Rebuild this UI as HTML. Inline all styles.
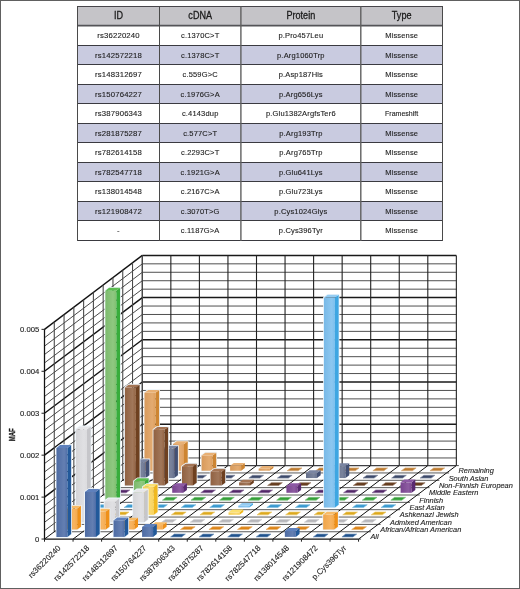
<!DOCTYPE html>
<html><head><meta charset="utf-8"><style>
html,body{margin:0;padding:0;background:#fff;}
body{width:520px;height:589px;overflow:hidden;position:relative;}
svg{position:absolute;left:0;top:0;will-change:transform;font-family:"Liberation Sans",sans-serif;}
.frame{position:absolute;left:0;top:0;width:518px;height:587px;border:1px solid #606060;}
</style></head><body>
<svg width="520" height="589" viewBox="0 0 520 589">
<defs><linearGradient id="g0" x1="0" y1="0" x2="1" y2="0"><stop offset="0" stop-color="#4d6ba3"/><stop offset="0.7" stop-color="#647fb2"/><stop offset="1" stop-color="#4f6ea8"/></linearGradient><linearGradient id="g1" x1="0" y1="0" x2="1" y2="0"><stop offset="0" stop-color="#efa54a"/><stop offset="0.7" stop-color="#f7b461"/><stop offset="1" stop-color="#f6aa4c"/></linearGradient><linearGradient id="g2" x1="0" y1="0" x2="1" y2="0"><stop offset="0" stop-color="#d5d5d8"/><stop offset="0.7" stop-color="#e0e0e3"/><stop offset="1" stop-color="#dcdcdf"/></linearGradient><linearGradient id="g3" x1="0" y1="0" x2="1" y2="0"><stop offset="0" stop-color="#f2cd57"/><stop offset="0.7" stop-color="#fad86e"/><stop offset="1" stop-color="#f9d35a"/></linearGradient><linearGradient id="g4" x1="0" y1="0" x2="1" y2="0"><stop offset="0" stop-color="#78b9e7"/><stop offset="0.7" stop-color="#8cc7f0"/><stop offset="1" stop-color="#7cbfee"/></linearGradient><linearGradient id="g5" x1="0" y1="0" x2="1" y2="0"><stop offset="0" stop-color="#7cba6d"/><stop offset="0.7" stop-color="#8fc881"/><stop offset="1" stop-color="#80c070"/></linearGradient><linearGradient id="g6" x1="0" y1="0" x2="1" y2="0"><stop offset="0" stop-color="#794490"/><stop offset="0.7" stop-color="#8d5ca1"/><stop offset="1" stop-color="#7d4694"/></linearGradient><linearGradient id="g7" x1="0" y1="0" x2="1" y2="0"><stop offset="0" stop-color="#906141"/><stop offset="0.7" stop-color="#a1775a"/><stop offset="1" stop-color="#946443"/></linearGradient><linearGradient id="g8" x1="0" y1="0" x2="1" y2="0"><stop offset="0" stop-color="#646f8b"/><stop offset="0.7" stop-color="#79839c"/><stop offset="1" stop-color="#67728f"/></linearGradient><linearGradient id="g9" x1="0" y1="0" x2="1" y2="0"><stop offset="0" stop-color="#d89a5b"/><stop offset="0.7" stop-color="#e3ab71"/><stop offset="1" stop-color="#df9f5e"/></linearGradient></defs>
<rect x="77.5" y="6.5" width="365.0" height="19.0" fill="#c5c4c8"/>
<rect x="77.5" y="45.50" width="365.0" height="19.00" fill="#c9cbe0"/>
<rect x="77.5" y="84.50" width="365.0" height="19.00" fill="#c9cbe0"/>
<rect x="77.5" y="123.50" width="365.0" height="19.00" fill="#c9cbe0"/>
<rect x="77.5" y="162.50" width="365.0" height="19.00" fill="#c9cbe0"/>
<rect x="77.5" y="201.50" width="365.0" height="19.00" fill="#c9cbe0"/>
<line x1="77.0" y1="6.5" x2="443.0" y2="6.5" stroke="#47454a" stroke-width="1.0"/>
<line x1="77.5" y1="25.6" x2="442.5" y2="25.6" stroke="#545458" stroke-width="1.6"/>
<line x1="77.5" y1="45.50" x2="442.5" y2="45.50" stroke="#3a3a40" stroke-width="1.0"/>
<line x1="77.5" y1="64.50" x2="442.5" y2="64.50" stroke="#3a3a40" stroke-width="1.0"/>
<line x1="77.5" y1="84.50" x2="442.5" y2="84.50" stroke="#3a3a40" stroke-width="1.0"/>
<line x1="77.5" y1="103.50" x2="442.5" y2="103.50" stroke="#3a3a40" stroke-width="1.0"/>
<line x1="77.5" y1="123.50" x2="442.5" y2="123.50" stroke="#3a3a40" stroke-width="1.0"/>
<line x1="77.5" y1="142.50" x2="442.5" y2="142.50" stroke="#3a3a40" stroke-width="1.0"/>
<line x1="77.5" y1="162.50" x2="442.5" y2="162.50" stroke="#3a3a40" stroke-width="1.0"/>
<line x1="77.5" y1="181.50" x2="442.5" y2="181.50" stroke="#3a3a40" stroke-width="1.0"/>
<line x1="77.5" y1="201.50" x2="442.5" y2="201.50" stroke="#3a3a40" stroke-width="1.0"/>
<line x1="77.5" y1="220.50" x2="442.5" y2="220.50" stroke="#3a3a40" stroke-width="1.0"/>
<line x1="77.5" y1="240.50" x2="442.5" y2="240.50" stroke="#3a3a40" stroke-width="1.0"/>
<line x1="77.5" y1="6.5" x2="77.5" y2="241.00" stroke="#4a4a4a" stroke-width="1.0"/>
<line x1="159.5" y1="6.5" x2="159.5" y2="241.00" stroke="#4a4a4a" stroke-width="1.0"/>
<line x1="240.9" y1="6.5" x2="240.9" y2="241.00" stroke="#606060" stroke-width="1.4"/>
<line x1="360.8" y1="6.5" x2="360.8" y2="241.00" stroke="#606060" stroke-width="1.4"/>
<line x1="442.5" y1="6.5" x2="442.5" y2="241.00" stroke="#4a4a4a" stroke-width="1.0"/>
<text x="0" y="0" font-size="10.1" fill="#1a1a1a" text-anchor="middle" stroke="#1a1a1a" stroke-width="0.28" transform="translate(118.50,19.0) scale(0.9,1)">ID</text>
<text x="0" y="0" font-size="10.1" fill="#1a1a1a" text-anchor="middle" stroke="#1a1a1a" stroke-width="0.28" transform="translate(200.20,19.0) scale(0.9,1)">cDNA</text>
<text x="0" y="0" font-size="10.1" fill="#1a1a1a" text-anchor="middle" stroke="#1a1a1a" stroke-width="0.28" transform="translate(300.85,19.0) scale(0.9,1)">Protein</text>
<text x="0" y="0" font-size="10.1" fill="#1a1a1a" text-anchor="middle" stroke="#1a1a1a" stroke-width="0.28" transform="translate(401.65,19.0) scale(0.9,1)">Type</text>
<text x="118.50" y="38.45" font-size="7.75" fill="#1e1e1e" stroke="#1e1e1e" stroke-width="0.12" letter-spacing="0.17" text-anchor="middle">rs36220240</text>
<text x="200.20" y="38.45" font-size="7.5" fill="#1e1e1e" stroke="#1e1e1e" stroke-width="0.12" letter-spacing="0.17" text-anchor="middle">c.1370C&gt;T</text>
<text x="300.85" y="38.45" font-size="7.5" fill="#1e1e1e" stroke="#1e1e1e" stroke-width="0.12" letter-spacing="0.17" text-anchor="middle">p.Pro457Leu</text>
<text x="401.65" y="38.45" font-size="7.5" fill="#1e1e1e" stroke="#1e1e1e" stroke-width="0.12" letter-spacing="0.17" text-anchor="middle">Missense</text>
<text x="118.50" y="57.91" font-size="7.75" fill="#1e1e1e" stroke="#1e1e1e" stroke-width="0.12" letter-spacing="0.17" text-anchor="middle">rs142572218</text>
<text x="200.20" y="57.91" font-size="7.5" fill="#1e1e1e" stroke="#1e1e1e" stroke-width="0.12" letter-spacing="0.17" text-anchor="middle">c.1378C&gt;T</text>
<text x="300.85" y="57.91" font-size="7.5" fill="#1e1e1e" stroke="#1e1e1e" stroke-width="0.12" letter-spacing="0.17" text-anchor="middle">p.Arg1060Trp</text>
<text x="401.65" y="57.91" font-size="7.5" fill="#1e1e1e" stroke="#1e1e1e" stroke-width="0.12" letter-spacing="0.17" text-anchor="middle">Missense</text>
<text x="118.50" y="77.37" font-size="7.75" fill="#1e1e1e" stroke="#1e1e1e" stroke-width="0.12" letter-spacing="0.17" text-anchor="middle">rs148312697</text>
<text x="200.20" y="77.37" font-size="7.5" fill="#1e1e1e" stroke="#1e1e1e" stroke-width="0.12" letter-spacing="0.17" text-anchor="middle">c.559G&gt;C</text>
<text x="300.85" y="77.37" font-size="7.5" fill="#1e1e1e" stroke="#1e1e1e" stroke-width="0.12" letter-spacing="0.17" text-anchor="middle">p.Asp187His</text>
<text x="401.65" y="77.37" font-size="7.5" fill="#1e1e1e" stroke="#1e1e1e" stroke-width="0.12" letter-spacing="0.17" text-anchor="middle">Missense</text>
<text x="118.50" y="96.83" font-size="7.75" fill="#1e1e1e" stroke="#1e1e1e" stroke-width="0.12" letter-spacing="0.17" text-anchor="middle">rs150764227</text>
<text x="200.20" y="96.83" font-size="7.5" fill="#1e1e1e" stroke="#1e1e1e" stroke-width="0.12" letter-spacing="0.17" text-anchor="middle">c.1976G&gt;A</text>
<text x="300.85" y="96.83" font-size="7.5" fill="#1e1e1e" stroke="#1e1e1e" stroke-width="0.12" letter-spacing="0.17" text-anchor="middle">p.Arg656Lys</text>
<text x="401.65" y="96.83" font-size="7.5" fill="#1e1e1e" stroke="#1e1e1e" stroke-width="0.12" letter-spacing="0.17" text-anchor="middle">Missense</text>
<text x="118.50" y="116.29" font-size="7.75" fill="#1e1e1e" stroke="#1e1e1e" stroke-width="0.12" letter-spacing="0.17" text-anchor="middle">rs387906343</text>
<text x="200.20" y="116.29" font-size="7.5" fill="#1e1e1e" stroke="#1e1e1e" stroke-width="0.12" letter-spacing="0.17" text-anchor="middle">c.4143dup</text>
<text x="300.85" y="116.29" font-size="7.5" fill="#1e1e1e" stroke="#1e1e1e" stroke-width="0.12" letter-spacing="0.17" text-anchor="middle">p.Glu1382ArgfsTer6</text>
<text x="385.05" y="116.29" font-size="7.3" fill="#1e1e1e" stroke="#1e1e1e" stroke-width="0.12" textLength="33.2" lengthAdjust="spacingAndGlyphs">Frameshift</text>
<text x="118.50" y="135.75" font-size="7.75" fill="#1e1e1e" stroke="#1e1e1e" stroke-width="0.12" letter-spacing="0.17" text-anchor="middle">rs281875287</text>
<text x="200.20" y="135.75" font-size="7.5" fill="#1e1e1e" stroke="#1e1e1e" stroke-width="0.12" letter-spacing="0.17" text-anchor="middle">c.577C&gt;T</text>
<text x="300.85" y="135.75" font-size="7.5" fill="#1e1e1e" stroke="#1e1e1e" stroke-width="0.12" letter-spacing="0.17" text-anchor="middle">p.Arg193Trp</text>
<text x="401.65" y="135.75" font-size="7.5" fill="#1e1e1e" stroke="#1e1e1e" stroke-width="0.12" letter-spacing="0.17" text-anchor="middle">Missense</text>
<text x="118.50" y="155.21" font-size="7.75" fill="#1e1e1e" stroke="#1e1e1e" stroke-width="0.12" letter-spacing="0.17" text-anchor="middle">rs782614158</text>
<text x="200.20" y="155.21" font-size="7.5" fill="#1e1e1e" stroke="#1e1e1e" stroke-width="0.12" letter-spacing="0.17" text-anchor="middle">c.2293C&gt;T</text>
<text x="300.85" y="155.21" font-size="7.5" fill="#1e1e1e" stroke="#1e1e1e" stroke-width="0.12" letter-spacing="0.17" text-anchor="middle">p.Arg765Trp</text>
<text x="401.65" y="155.21" font-size="7.5" fill="#1e1e1e" stroke="#1e1e1e" stroke-width="0.12" letter-spacing="0.17" text-anchor="middle">Missense</text>
<text x="118.50" y="174.67" font-size="7.75" fill="#1e1e1e" stroke="#1e1e1e" stroke-width="0.12" letter-spacing="0.17" text-anchor="middle">rs782547718</text>
<text x="200.20" y="174.67" font-size="7.5" fill="#1e1e1e" stroke="#1e1e1e" stroke-width="0.12" letter-spacing="0.17" text-anchor="middle">c.1921G&gt;A</text>
<text x="300.85" y="174.67" font-size="7.5" fill="#1e1e1e" stroke="#1e1e1e" stroke-width="0.12" letter-spacing="0.17" text-anchor="middle">p.Glu641Lys</text>
<text x="401.65" y="174.67" font-size="7.5" fill="#1e1e1e" stroke="#1e1e1e" stroke-width="0.12" letter-spacing="0.17" text-anchor="middle">Missense</text>
<text x="118.50" y="194.13" font-size="7.75" fill="#1e1e1e" stroke="#1e1e1e" stroke-width="0.12" letter-spacing="0.17" text-anchor="middle">rs138014548</text>
<text x="200.20" y="194.13" font-size="7.5" fill="#1e1e1e" stroke="#1e1e1e" stroke-width="0.12" letter-spacing="0.17" text-anchor="middle">c.2167C&gt;A</text>
<text x="300.85" y="194.13" font-size="7.5" fill="#1e1e1e" stroke="#1e1e1e" stroke-width="0.12" letter-spacing="0.17" text-anchor="middle">p.Glu723Lys</text>
<text x="401.65" y="194.13" font-size="7.5" fill="#1e1e1e" stroke="#1e1e1e" stroke-width="0.12" letter-spacing="0.17" text-anchor="middle">Missense</text>
<text x="118.50" y="213.59" font-size="7.75" fill="#1e1e1e" stroke="#1e1e1e" stroke-width="0.12" letter-spacing="0.17" text-anchor="middle">rs121908472</text>
<text x="200.20" y="213.59" font-size="7.5" fill="#1e1e1e" stroke="#1e1e1e" stroke-width="0.12" letter-spacing="0.17" text-anchor="middle">c.3070T&gt;G</text>
<text x="300.85" y="213.59" font-size="7.5" fill="#1e1e1e" stroke="#1e1e1e" stroke-width="0.12" letter-spacing="0.17" text-anchor="middle">p.Cys1024Glys</text>
<text x="401.65" y="213.59" font-size="7.5" fill="#1e1e1e" stroke="#1e1e1e" stroke-width="0.12" letter-spacing="0.17" text-anchor="middle">Missense</text>
<text x="118.50" y="233.05" font-size="7.75" fill="#1e1e1e" stroke="#1e1e1e" stroke-width="0.12" letter-spacing="0.17" text-anchor="middle">-</text>
<text x="200.20" y="233.05" font-size="7.5" fill="#1e1e1e" stroke="#1e1e1e" stroke-width="0.12" letter-spacing="0.17" text-anchor="middle">c.1187G&gt;A</text>
<text x="300.85" y="233.05" font-size="7.5" fill="#1e1e1e" stroke="#1e1e1e" stroke-width="0.12" letter-spacing="0.17" text-anchor="middle">p.Cys396Tyr</text>
<text x="401.65" y="233.05" font-size="7.5" fill="#1e1e1e" stroke="#1e1e1e" stroke-width="0.12" letter-spacing="0.17" text-anchor="middle">Missense</text>
<polygon points="142.30,465.60 456.35,465.60 456.35,255.60 142.30,255.60" fill="#fff"/>
<polygon points="44.50,539.10 142.30,465.60 142.30,255.60 44.50,329.10" fill="#fff"/>
<polygon points="44.50,539.10 358.55,539.10 456.35,465.60 142.30,465.60" fill="#fff"/>
<line x1="142.30" y1="457.96" x2="456.35" y2="457.96" stroke="#505050" stroke-width="1.0"/>
<line x1="142.30" y1="449.52" x2="456.35" y2="449.52" stroke="#505050" stroke-width="1.0"/>
<line x1="142.30" y1="441.08" x2="456.35" y2="441.08" stroke="#505050" stroke-width="1.0"/>
<line x1="142.30" y1="432.64" x2="456.35" y2="432.64" stroke="#505050" stroke-width="1.0"/>
<line x1="142.30" y1="424.20" x2="456.35" y2="424.20" stroke="#1a1a1a" stroke-width="1.5"/>
<line x1="142.30" y1="415.76" x2="456.35" y2="415.76" stroke="#505050" stroke-width="1.0"/>
<line x1="142.30" y1="407.32" x2="456.35" y2="407.32" stroke="#505050" stroke-width="1.0"/>
<line x1="142.30" y1="398.88" x2="456.35" y2="398.88" stroke="#505050" stroke-width="1.0"/>
<line x1="142.30" y1="390.44" x2="456.35" y2="390.44" stroke="#505050" stroke-width="1.0"/>
<line x1="142.30" y1="382.00" x2="456.35" y2="382.00" stroke="#1a1a1a" stroke-width="1.5"/>
<line x1="142.30" y1="373.56" x2="456.35" y2="373.56" stroke="#505050" stroke-width="1.0"/>
<line x1="142.30" y1="365.12" x2="456.35" y2="365.12" stroke="#505050" stroke-width="1.0"/>
<line x1="142.30" y1="356.68" x2="456.35" y2="356.68" stroke="#505050" stroke-width="1.0"/>
<line x1="142.30" y1="348.24" x2="456.35" y2="348.24" stroke="#505050" stroke-width="1.0"/>
<line x1="142.30" y1="339.80" x2="456.35" y2="339.80" stroke="#1a1a1a" stroke-width="1.5"/>
<line x1="142.30" y1="331.36" x2="456.35" y2="331.36" stroke="#505050" stroke-width="1.0"/>
<line x1="142.30" y1="322.92" x2="456.35" y2="322.92" stroke="#505050" stroke-width="1.0"/>
<line x1="142.30" y1="314.48" x2="456.35" y2="314.48" stroke="#505050" stroke-width="1.0"/>
<line x1="142.30" y1="306.04" x2="456.35" y2="306.04" stroke="#505050" stroke-width="1.0"/>
<line x1="142.30" y1="297.60" x2="456.35" y2="297.60" stroke="#1a1a1a" stroke-width="1.5"/>
<line x1="142.30" y1="289.16" x2="456.35" y2="289.16" stroke="#505050" stroke-width="1.0"/>
<line x1="142.30" y1="280.72" x2="456.35" y2="280.72" stroke="#505050" stroke-width="1.0"/>
<line x1="142.30" y1="272.28" x2="456.35" y2="272.28" stroke="#505050" stroke-width="1.0"/>
<line x1="142.30" y1="263.84" x2="456.35" y2="263.84" stroke="#505050" stroke-width="1.0"/>
<line x1="142.30" y1="255.40" x2="456.35" y2="255.40" stroke="#1a1a1a" stroke-width="1.5"/>
<line x1="142.30" y1="465.60" x2="142.30" y2="255.40" stroke="#222" stroke-width="1.1"/>
<line x1="170.85" y1="465.60" x2="170.85" y2="255.40" stroke="#222" stroke-width="1.1"/>
<line x1="199.40" y1="465.60" x2="199.40" y2="255.40" stroke="#222" stroke-width="1.1"/>
<line x1="227.95" y1="465.60" x2="227.95" y2="255.40" stroke="#222" stroke-width="1.1"/>
<line x1="256.50" y1="465.60" x2="256.50" y2="255.40" stroke="#222" stroke-width="1.1"/>
<line x1="285.05" y1="465.60" x2="285.05" y2="255.40" stroke="#222" stroke-width="1.1"/>
<line x1="313.60" y1="465.60" x2="313.60" y2="255.40" stroke="#222" stroke-width="1.1"/>
<line x1="342.15" y1="465.60" x2="342.15" y2="255.40" stroke="#222" stroke-width="1.1"/>
<line x1="370.70" y1="465.60" x2="370.70" y2="255.40" stroke="#222" stroke-width="1.1"/>
<line x1="399.25" y1="465.60" x2="399.25" y2="255.40" stroke="#222" stroke-width="1.1"/>
<line x1="427.80" y1="465.60" x2="427.80" y2="255.40" stroke="#222" stroke-width="1.1"/>
<line x1="456.35" y1="465.60" x2="456.35" y2="255.40" stroke="#222" stroke-width="1.1"/>
<line x1="44.50" y1="530.66" x2="142.30" y2="457.96" stroke="#333" stroke-width="0.9"/>
<line x1="44.50" y1="522.27" x2="142.30" y2="449.52" stroke="#333" stroke-width="0.9"/>
<line x1="44.50" y1="513.89" x2="142.30" y2="441.08" stroke="#333" stroke-width="0.9"/>
<line x1="44.50" y1="505.50" x2="142.30" y2="432.64" stroke="#333" stroke-width="0.9"/>
<line x1="44.50" y1="497.11" x2="142.30" y2="424.20" stroke="#111" stroke-width="1.4"/>
<line x1="44.50" y1="488.72" x2="142.30" y2="415.76" stroke="#333" stroke-width="0.9"/>
<line x1="44.50" y1="480.33" x2="142.30" y2="407.32" stroke="#333" stroke-width="0.9"/>
<line x1="44.50" y1="471.95" x2="142.30" y2="398.88" stroke="#333" stroke-width="0.9"/>
<line x1="44.50" y1="463.56" x2="142.30" y2="390.44" stroke="#333" stroke-width="0.9"/>
<line x1="44.50" y1="455.17" x2="142.30" y2="382.00" stroke="#111" stroke-width="1.4"/>
<line x1="44.50" y1="446.78" x2="142.30" y2="373.56" stroke="#333" stroke-width="0.9"/>
<line x1="44.50" y1="438.39" x2="142.30" y2="365.12" stroke="#333" stroke-width="0.9"/>
<line x1="44.50" y1="430.01" x2="142.30" y2="356.68" stroke="#333" stroke-width="0.9"/>
<line x1="44.50" y1="421.62" x2="142.30" y2="348.24" stroke="#333" stroke-width="0.9"/>
<line x1="44.50" y1="413.23" x2="142.30" y2="339.80" stroke="#111" stroke-width="1.4"/>
<line x1="44.50" y1="404.84" x2="142.30" y2="331.36" stroke="#333" stroke-width="0.9"/>
<line x1="44.50" y1="396.45" x2="142.30" y2="322.92" stroke="#333" stroke-width="0.9"/>
<line x1="44.50" y1="388.07" x2="142.30" y2="314.48" stroke="#333" stroke-width="0.9"/>
<line x1="44.50" y1="379.68" x2="142.30" y2="306.04" stroke="#333" stroke-width="0.9"/>
<line x1="44.50" y1="371.29" x2="142.30" y2="297.60" stroke="#111" stroke-width="1.4"/>
<line x1="44.50" y1="362.90" x2="142.30" y2="289.16" stroke="#333" stroke-width="0.9"/>
<line x1="44.50" y1="354.51" x2="142.30" y2="280.72" stroke="#333" stroke-width="0.9"/>
<line x1="44.50" y1="346.13" x2="142.30" y2="272.28" stroke="#333" stroke-width="0.9"/>
<line x1="44.50" y1="337.74" x2="142.30" y2="263.84" stroke="#333" stroke-width="0.9"/>
<line x1="44.50" y1="329.35" x2="142.30" y2="255.40" stroke="#111" stroke-width="1.4"/>
<line x1="44.50" y1="539.10" x2="44.50" y2="329.35" stroke="#4a4a4a" stroke-width="1.1"/>
<line x1="54.28" y1="531.75" x2="54.28" y2="321.95" stroke="#4a4a4a" stroke-width="1.1"/>
<line x1="64.06" y1="524.40" x2="64.06" y2="314.56" stroke="#4a4a4a" stroke-width="1.1"/>
<line x1="73.84" y1="517.05" x2="73.84" y2="307.16" stroke="#4a4a4a" stroke-width="1.1"/>
<line x1="83.62" y1="509.70" x2="83.62" y2="299.77" stroke="#4a4a4a" stroke-width="1.1"/>
<line x1="93.40" y1="502.35" x2="93.40" y2="292.38" stroke="#4a4a4a" stroke-width="1.1"/>
<line x1="103.18" y1="495.00" x2="103.18" y2="284.98" stroke="#4a4a4a" stroke-width="1.1"/>
<line x1="112.96" y1="487.65" x2="112.96" y2="277.58" stroke="#4a4a4a" stroke-width="1.1"/>
<line x1="122.74" y1="480.30" x2="122.74" y2="270.19" stroke="#4a4a4a" stroke-width="1.1"/>
<line x1="132.52" y1="472.95" x2="132.52" y2="262.79" stroke="#4a4a4a" stroke-width="1.1"/>
<line x1="142.30" y1="465.60" x2="142.30" y2="255.40" stroke="#4a4a4a" stroke-width="1.1"/>
<line x1="44.50" y1="539.10" x2="358.55" y2="539.10" stroke="#111" stroke-width="1.3"/>
<line x1="54.28" y1="531.75" x2="368.33" y2="531.75" stroke="#5a5a5a" stroke-width="1.0"/>
<line x1="64.06" y1="524.40" x2="378.11" y2="524.40" stroke="#5a5a5a" stroke-width="1.0"/>
<line x1="73.84" y1="517.05" x2="387.89" y2="517.05" stroke="#5a5a5a" stroke-width="1.0"/>
<line x1="83.62" y1="509.70" x2="397.67" y2="509.70" stroke="#5a5a5a" stroke-width="1.0"/>
<line x1="93.40" y1="502.35" x2="407.45" y2="502.35" stroke="#5a5a5a" stroke-width="1.0"/>
<line x1="103.18" y1="495.00" x2="417.23" y2="495.00" stroke="#5a5a5a" stroke-width="1.0"/>
<line x1="112.96" y1="487.65" x2="427.01" y2="487.65" stroke="#5a5a5a" stroke-width="1.0"/>
<line x1="122.74" y1="480.30" x2="436.79" y2="480.30" stroke="#5a5a5a" stroke-width="1.0"/>
<line x1="132.52" y1="472.95" x2="446.57" y2="472.95" stroke="#5a5a5a" stroke-width="1.0"/>
<line x1="142.30" y1="465.60" x2="456.35" y2="465.60" stroke="#404044" stroke-width="1.3"/>
<line x1="44.50" y1="539.10" x2="142.30" y2="465.60" stroke="#111" stroke-width="1.0"/>
<line x1="73.05" y1="539.10" x2="170.85" y2="465.60" stroke="#111" stroke-width="1.0"/>
<line x1="101.60" y1="539.10" x2="199.40" y2="465.60" stroke="#111" stroke-width="1.0"/>
<line x1="130.15" y1="539.10" x2="227.95" y2="465.60" stroke="#111" stroke-width="1.0"/>
<line x1="158.70" y1="539.10" x2="256.50" y2="465.60" stroke="#111" stroke-width="1.0"/>
<line x1="187.25" y1="539.10" x2="285.05" y2="465.60" stroke="#111" stroke-width="1.0"/>
<line x1="215.80" y1="539.10" x2="313.60" y2="465.60" stroke="#111" stroke-width="1.0"/>
<line x1="244.35" y1="539.10" x2="342.15" y2="465.60" stroke="#111" stroke-width="1.0"/>
<line x1="272.90" y1="539.10" x2="370.70" y2="465.60" stroke="#111" stroke-width="1.0"/>
<line x1="301.45" y1="539.10" x2="399.25" y2="465.60" stroke="#111" stroke-width="1.0"/>
<line x1="330.00" y1="539.10" x2="427.80" y2="465.60" stroke="#111" stroke-width="1.0"/>
<line x1="358.55" y1="539.10" x2="456.35" y2="465.60" stroke="#111" stroke-width="1.0"/>
<line x1="44.50" y1="539.10" x2="44.50" y2="541.70" stroke="#222" stroke-width="1.0"/>
<line x1="73.05" y1="539.10" x2="73.05" y2="541.70" stroke="#222" stroke-width="1.0"/>
<line x1="101.60" y1="539.10" x2="101.60" y2="541.70" stroke="#222" stroke-width="1.0"/>
<line x1="130.15" y1="539.10" x2="130.15" y2="541.70" stroke="#222" stroke-width="1.0"/>
<line x1="158.70" y1="539.10" x2="158.70" y2="541.70" stroke="#222" stroke-width="1.0"/>
<line x1="187.25" y1="539.10" x2="187.25" y2="541.70" stroke="#222" stroke-width="1.0"/>
<line x1="215.80" y1="539.10" x2="215.80" y2="541.70" stroke="#222" stroke-width="1.0"/>
<line x1="244.35" y1="539.10" x2="244.35" y2="541.70" stroke="#222" stroke-width="1.0"/>
<line x1="272.90" y1="539.10" x2="272.90" y2="541.70" stroke="#222" stroke-width="1.0"/>
<line x1="301.45" y1="539.10" x2="301.45" y2="541.70" stroke="#222" stroke-width="1.0"/>
<line x1="330.00" y1="539.10" x2="330.00" y2="541.70" stroke="#222" stroke-width="1.0"/>
<line x1="358.55" y1="539.10" x2="358.55" y2="541.70" stroke="#222" stroke-width="1.0"/>
<line x1="358.55" y1="539.10" x2="361.05" y2="539.10" stroke="#222" stroke-width="0.8"/>
<line x1="368.33" y1="531.75" x2="370.83" y2="531.75" stroke="#222" stroke-width="0.8"/>
<line x1="378.11" y1="524.40" x2="380.61" y2="524.40" stroke="#222" stroke-width="0.8"/>
<line x1="387.89" y1="517.05" x2="390.39" y2="517.05" stroke="#222" stroke-width="0.8"/>
<line x1="397.67" y1="509.70" x2="400.17" y2="509.70" stroke="#222" stroke-width="0.8"/>
<line x1="407.45" y1="502.35" x2="409.95" y2="502.35" stroke="#222" stroke-width="0.8"/>
<line x1="417.23" y1="495.00" x2="419.73" y2="495.00" stroke="#222" stroke-width="0.8"/>
<line x1="427.01" y1="487.65" x2="429.51" y2="487.65" stroke="#222" stroke-width="0.8"/>
<line x1="436.79" y1="480.30" x2="439.29" y2="480.30" stroke="#222" stroke-width="0.8"/>
<line x1="446.57" y1="472.95" x2="449.07" y2="472.95" stroke="#222" stroke-width="0.8"/>
<line x1="456.35" y1="465.60" x2="458.85" y2="465.60" stroke="#222" stroke-width="0.8"/>
<line x1="44.50" y1="539.10" x2="44.50" y2="329.35" stroke="#111" stroke-width="1.2"/>
<line x1="41.50" y1="539.05" x2="44.50" y2="539.05" stroke="#222" stroke-width="1.0"/>
<text x="39.30" y="541.75" font-size="7.7" fill="#222" stroke="#222" stroke-width="0.12" text-anchor="end">0</text>
<line x1="41.50" y1="497.11" x2="44.50" y2="497.11" stroke="#222" stroke-width="1.0"/>
<text x="39.30" y="499.81" font-size="7.7" fill="#222" stroke="#222" stroke-width="0.12" text-anchor="end">0.001</text>
<line x1="41.50" y1="455.17" x2="44.50" y2="455.17" stroke="#222" stroke-width="1.0"/>
<text x="39.30" y="457.87" font-size="7.7" fill="#222" stroke="#222" stroke-width="0.12" text-anchor="end">0.002</text>
<line x1="41.50" y1="413.23" x2="44.50" y2="413.23" stroke="#222" stroke-width="1.0"/>
<text x="39.30" y="415.93" font-size="7.7" fill="#222" stroke="#222" stroke-width="0.12" text-anchor="end">0.003</text>
<line x1="41.50" y1="371.29" x2="44.50" y2="371.29" stroke="#222" stroke-width="1.0"/>
<text x="39.30" y="373.99" font-size="7.7" fill="#222" stroke="#222" stroke-width="0.12" text-anchor="end">0.004</text>
<line x1="41.50" y1="329.35" x2="44.50" y2="329.35" stroke="#222" stroke-width="1.0"/>
<text x="39.30" y="332.05" font-size="7.7" fill="#222" stroke="#222" stroke-width="0.12" text-anchor="end">0.005</text>
<text x="0" y="0" font-size="9.6" font-weight="bold" fill="#1a1a1a" stroke="#1a1a1a" stroke-width="0.35" text-anchor="middle" transform="translate(14.5,434.7) rotate(-90) scale(0.62,1)">MAF</text>
<text x="0" y="0" font-size="8" fill="#222" stroke="#222" stroke-width="0.1" text-anchor="end" transform="translate(61.27,548.50) rotate(-45)">rs36220240</text>
<text x="0" y="0" font-size="8" fill="#222" stroke="#222" stroke-width="0.1" text-anchor="end" transform="translate(89.83,548.50) rotate(-45)">rs142572218</text>
<text x="0" y="0" font-size="8" fill="#222" stroke="#222" stroke-width="0.1" text-anchor="end" transform="translate(118.38,548.50) rotate(-45)">rs148312697</text>
<text x="0" y="0" font-size="8" fill="#222" stroke="#222" stroke-width="0.1" text-anchor="end" transform="translate(146.93,548.50) rotate(-45)">rs150764227</text>
<text x="0" y="0" font-size="8" fill="#222" stroke="#222" stroke-width="0.1" text-anchor="end" transform="translate(175.47,548.50) rotate(-45)">rs387906343</text>
<text x="0" y="0" font-size="8" fill="#222" stroke="#222" stroke-width="0.1" text-anchor="end" transform="translate(204.03,548.50) rotate(-45)">rs281875287</text>
<text x="0" y="0" font-size="8" fill="#222" stroke="#222" stroke-width="0.1" text-anchor="end" transform="translate(232.58,548.50) rotate(-45)">rs782614158</text>
<text x="0" y="0" font-size="8" fill="#222" stroke="#222" stroke-width="0.1" text-anchor="end" transform="translate(261.12,548.50) rotate(-45)">rs782547718</text>
<text x="0" y="0" font-size="8" fill="#222" stroke="#222" stroke-width="0.1" text-anchor="end" transform="translate(289.68,548.50) rotate(-45)">rs138014548</text>
<text x="0" y="0" font-size="8" fill="#222" stroke="#222" stroke-width="0.1" text-anchor="end" transform="translate(318.23,548.50) rotate(-45)">rs121908472</text>
<text x="0" y="0" font-size="8" fill="#222" stroke="#222" stroke-width="0.1" text-anchor="end" transform="translate(346.78,548.50) rotate(-45)">p.Cys396Tyr</text>
<text x="370.44" y="539.33" font-size="7.4" font-style="italic" fill="#1e1e1e" stroke="#1e1e1e" stroke-width="0.12">All</text>
<text x="380.22" y="531.98" font-size="7.4" font-style="italic" fill="#1e1e1e" stroke="#1e1e1e" stroke-width="0.12">African/African American</text>
<text x="390.00" y="524.62" font-size="7.4" font-style="italic" fill="#1e1e1e" stroke="#1e1e1e" stroke-width="0.12">Admixed American</text>
<text x="399.78" y="517.27" font-size="7.4" font-style="italic" fill="#1e1e1e" stroke="#1e1e1e" stroke-width="0.12">Ashkenazi Jewish</text>
<text x="409.56" y="509.93" font-size="7.4" font-style="italic" fill="#1e1e1e" stroke="#1e1e1e" stroke-width="0.12">East Asian</text>
<text x="419.34" y="502.57" font-size="7.4" font-style="italic" fill="#1e1e1e" stroke="#1e1e1e" stroke-width="0.12">Finnish</text>
<text x="429.12" y="495.23" font-size="7.4" font-style="italic" fill="#1e1e1e" stroke="#1e1e1e" stroke-width="0.12">Middle Eastern</text>
<text x="438.90" y="487.88" font-size="7.4" font-style="italic" fill="#1e1e1e" stroke="#1e1e1e" stroke-width="0.12">Non-Finnish European</text>
<text x="448.68" y="480.52" font-size="7.4" font-style="italic" fill="#1e1e1e" stroke="#1e1e1e" stroke-width="0.12">South Asian</text>
<text x="458.46" y="473.18" font-size="7.4" font-style="italic" fill="#1e1e1e" stroke="#1e1e1e" stroke-width="0.12">Remaining</text>
<polygon points="144.45,470.75 155.45,470.75 159.17,467.95 159.17,389.95 148.17,389.95 144.45,392.75" fill="none" stroke="#eef6fc" stroke-width="1.6" stroke-linejoin="round"/>
<polygon points="144.45,470.75 155.45,470.75 155.45,392.75 144.45,392.75" fill="url(#g9)"/>
<polygon points="155.45,470.75 159.17,467.95 159.17,389.95 155.45,392.75" fill="#cd8532"/>
<polygon points="144.45,392.75 155.45,392.75 159.17,389.95 148.17,389.95" fill="#e8b074"/>
<polygon points="173.00,470.75 184.00,470.75 187.72,467.95 187.72,441.25 176.72,441.25 173.00,444.05" fill="none" stroke="#eef6fc" stroke-width="1.6" stroke-linejoin="round"/>
<polygon points="173.00,470.75 184.00,470.75 184.00,444.05 173.00,444.05" fill="url(#g9)"/>
<polygon points="184.00,470.75 187.72,467.95 187.72,441.25 184.00,444.05" fill="#cd8532"/>
<polygon points="173.00,444.05 184.00,444.05 187.72,441.25 176.72,441.25" fill="#e8b074"/>
<polygon points="201.55,470.75 212.55,470.75 216.27,467.95 216.27,452.65 205.27,452.65 201.55,455.44" fill="none" stroke="#eef6fc" stroke-width="1.6" stroke-linejoin="round"/>
<polygon points="201.55,470.75 212.55,470.75 212.55,455.44 201.55,455.44" fill="url(#g9)"/>
<polygon points="212.55,470.75 216.27,467.95 216.27,452.65 212.55,455.44" fill="#cd8532"/>
<polygon points="201.55,455.44 212.55,455.44 216.27,452.65 205.27,452.65" fill="#e8b074"/>
<polygon points="230.10,470.75 241.10,470.75 241.10,465.75 230.10,465.75" fill="url(#g9)"/>
<polygon points="241.10,470.75 244.82,467.95 244.82,462.95 241.10,465.75" fill="#cd8532"/>
<polygon points="230.10,465.75 241.10,465.75 244.82,462.95 233.82,462.95" fill="#e8b074"/>
<polygon points="258.65,470.75 269.65,470.75 269.65,468.75 258.65,468.75" fill="url(#g9)"/>
<polygon points="269.65,470.75 273.37,467.95 273.37,465.95 269.65,468.75" fill="#cd8532"/>
<polygon points="258.65,468.75 269.65,468.75 273.37,465.95 262.37,465.95" fill="#e8b074"/>
<polygon points="287.20,470.75 298.20,470.75 301.92,467.95 290.92,467.95" fill="#bd7a2e" stroke="#d4a977" stroke-width="0.7" stroke-linejoin="round"/>
<polygon points="315.75,470.75 326.75,470.75 330.47,467.95 319.47,467.95" fill="#bd7a2e" stroke="#d4a977" stroke-width="0.7" stroke-linejoin="round"/>
<polygon points="344.30,470.75 355.30,470.75 359.02,467.95 348.02,467.95" fill="#bd7a2e" stroke="#d4a977" stroke-width="0.7" stroke-linejoin="round"/>
<polygon points="372.85,470.75 383.85,470.75 387.57,467.95 376.57,467.95" fill="#bd7a2e" stroke="#d4a977" stroke-width="0.7" stroke-linejoin="round"/>
<polygon points="401.40,470.75 412.40,470.75 416.12,467.95 405.12,467.95" fill="#bd7a2e" stroke="#d4a977" stroke-width="0.7" stroke-linejoin="round"/>
<polygon points="429.95,470.75 440.95,470.75 444.67,467.95 433.67,467.95" fill="#bd7a2e" stroke="#d4a977" stroke-width="0.7" stroke-linejoin="round"/>
<polygon points="134.67,478.10 145.67,478.10 149.39,475.30 149.39,459.30 138.39,459.30 134.67,462.10" fill="none" stroke="#eef6fc" stroke-width="1.6" stroke-linejoin="round"/>
<polygon points="134.67,478.10 145.67,478.10 145.67,462.10 134.67,462.10" fill="url(#g8)"/>
<polygon points="145.67,478.10 149.39,475.30 149.39,459.30 145.67,462.10" fill="#425074"/>
<polygon points="134.67,462.10 145.67,462.10 149.39,459.30 138.39,459.30" fill="#7a85a2"/>
<polygon points="163.22,478.10 174.22,478.10 177.94,475.30 177.94,445.70 166.94,445.70 163.22,448.50" fill="none" stroke="#eef6fc" stroke-width="1.6" stroke-linejoin="round"/>
<polygon points="163.22,478.10 174.22,478.10 174.22,448.50 163.22,448.50" fill="url(#g8)"/>
<polygon points="174.22,478.10 177.94,475.30 177.94,445.70 174.22,448.50" fill="#425074"/>
<polygon points="163.22,448.50 174.22,448.50 177.94,445.70 166.94,445.70" fill="#7a85a2"/>
<polygon points="191.77,478.10 202.77,478.10 206.49,475.30 195.49,475.30" fill="#3d4a6b" stroke="#81899f" stroke-width="0.7" stroke-linejoin="round"/>
<polygon points="220.32,478.10 231.32,478.10 235.04,475.30 224.04,475.30" fill="#3d4a6b" stroke="#81899f" stroke-width="0.7" stroke-linejoin="round"/>
<polygon points="248.87,478.10 259.87,478.10 263.59,475.30 252.59,475.30" fill="#3d4a6b" stroke="#81899f" stroke-width="0.7" stroke-linejoin="round"/>
<polygon points="277.42,478.10 288.42,478.10 292.14,475.30 281.14,475.30" fill="#3d4a6b" stroke="#81899f" stroke-width="0.7" stroke-linejoin="round"/>
<polygon points="305.97,478.10 316.97,478.10 316.97,473.10 305.97,473.10" fill="url(#g8)"/>
<polygon points="316.97,478.10 320.69,475.30 320.69,470.30 316.97,473.10" fill="#425074"/>
<polygon points="305.97,473.10 316.97,473.10 320.69,470.30 309.69,470.30" fill="#7a85a2"/>
<polygon points="334.52,478.10 345.52,478.10 345.52,466.10 334.52,466.10" fill="url(#g8)"/>
<polygon points="345.52,478.10 349.24,475.30 349.24,463.30 345.52,466.10" fill="#425074"/>
<polygon points="334.52,466.10 345.52,466.10 349.24,463.30 338.24,463.30" fill="#7a85a2"/>
<polygon points="363.07,478.10 374.07,478.10 377.79,475.30 366.79,475.30" fill="#3d4a6b" stroke="#81899f" stroke-width="0.7" stroke-linejoin="round"/>
<polygon points="391.62,478.10 402.62,478.10 406.34,475.30 395.34,475.30" fill="#3d4a6b" stroke="#81899f" stroke-width="0.7" stroke-linejoin="round"/>
<polygon points="420.17,478.10 431.17,478.10 434.89,475.30 423.89,475.30" fill="#3d4a6b" stroke="#81899f" stroke-width="0.7" stroke-linejoin="round"/>
<polygon points="124.89,485.45 135.89,485.45 139.61,482.65 139.61,384.65 128.61,384.65 124.89,387.45" fill="none" stroke="#eef6fc" stroke-width="1.6" stroke-linejoin="round"/>
<polygon points="124.89,485.45 135.89,485.45 135.89,387.45 124.89,387.45" fill="url(#g7)"/>
<polygon points="135.89,485.45 139.61,482.65 139.61,384.65 135.89,387.45" fill="#6e4020"/>
<polygon points="124.89,387.45 135.89,387.45 139.61,384.65 128.61,384.65" fill="#a47454"/>
<polygon points="153.44,485.45 164.44,485.45 168.16,482.65 168.16,426.95 157.16,426.95 153.44,429.75" fill="none" stroke="#eef6fc" stroke-width="1.6" stroke-linejoin="round"/>
<polygon points="153.44,485.45 164.44,485.45 164.44,429.75 153.44,429.75" fill="url(#g7)"/>
<polygon points="164.44,485.45 168.16,482.65 168.16,426.95 164.44,429.75" fill="#6e4020"/>
<polygon points="153.44,429.75 164.44,429.75 168.16,426.95 157.16,426.95" fill="#a47454"/>
<polygon points="181.99,485.45 192.99,485.45 196.71,482.65 196.71,463.65 185.71,463.65 181.99,466.45" fill="none" stroke="#eef6fc" stroke-width="1.6" stroke-linejoin="round"/>
<polygon points="181.99,485.45 192.99,485.45 192.99,466.45 181.99,466.45" fill="url(#g7)"/>
<polygon points="192.99,485.45 196.71,482.65 196.71,463.65 192.99,466.45" fill="#6e4020"/>
<polygon points="181.99,466.45 192.99,466.45 196.71,463.65 185.71,463.65" fill="#a47454"/>
<polygon points="210.54,485.45 221.54,485.45 225.26,482.65 225.26,468.85 214.26,468.85 210.54,471.65" fill="none" stroke="#eef6fc" stroke-width="1.6" stroke-linejoin="round"/>
<polygon points="210.54,485.45 221.54,485.45 221.54,471.65 210.54,471.65" fill="url(#g7)"/>
<polygon points="221.54,485.45 225.26,482.65 225.26,468.85 221.54,471.65" fill="#6e4020"/>
<polygon points="210.54,471.65 221.54,471.65 225.26,468.85 214.26,468.85" fill="#a47454"/>
<polygon points="239.09,485.45 250.09,485.45 250.09,482.45 239.09,482.45" fill="url(#g7)"/>
<polygon points="250.09,485.45 253.81,482.65 253.81,479.65 250.09,482.45" fill="#6e4020"/>
<polygon points="239.09,482.45 250.09,482.45 253.81,479.65 242.81,479.65" fill="#a47454"/>
<polygon points="267.64,485.45 278.64,485.45 282.36,482.65 271.36,482.65" fill="#653b1d" stroke="#9b806c" stroke-width="0.7" stroke-linejoin="round"/>
<polygon points="296.19,485.45 307.19,485.45 310.91,482.65 299.91,482.65" fill="#653b1d" stroke="#9b806c" stroke-width="0.7" stroke-linejoin="round"/>
<polygon points="324.74,485.45 335.74,485.45 339.46,482.65 328.46,482.65" fill="#653b1d" stroke="#9b806c" stroke-width="0.7" stroke-linejoin="round"/>
<polygon points="353.29,485.45 364.29,485.45 368.01,482.65 357.01,482.65" fill="#653b1d" stroke="#9b806c" stroke-width="0.7" stroke-linejoin="round"/>
<polygon points="381.84,485.45 392.84,485.45 396.56,482.65 385.56,482.65" fill="#653b1d" stroke="#9b806c" stroke-width="0.7" stroke-linejoin="round"/>
<polygon points="410.39,485.45 421.39,485.45 425.11,482.65 414.11,482.65" fill="#653b1d" stroke="#9b806c" stroke-width="0.7" stroke-linejoin="round"/>
<polygon points="115.11,492.80 126.11,492.80 129.83,490.00 118.83,490.00" fill="#532769" stroke="#8f739e" stroke-width="0.7" stroke-linejoin="round"/>
<polygon points="143.66,492.80 154.66,492.80 158.38,490.00 147.38,490.00" fill="#532769" stroke="#8f739e" stroke-width="0.7" stroke-linejoin="round"/>
<polygon points="172.21,492.80 183.21,492.80 183.21,486.00 172.21,486.00" fill="url(#g6)"/>
<polygon points="183.21,492.80 186.93,490.00 186.93,483.20 183.21,486.00" fill="#5a2a72"/>
<polygon points="172.21,486.00 183.21,486.00 186.93,483.20 175.93,483.20" fill="#8c58a4"/>
<polygon points="200.76,492.80 211.76,492.80 215.48,490.00 204.48,490.00" fill="#532769" stroke="#8f739e" stroke-width="0.7" stroke-linejoin="round"/>
<polygon points="229.31,492.80 240.31,492.80 244.03,490.00 233.03,490.00" fill="#532769" stroke="#8f739e" stroke-width="0.7" stroke-linejoin="round"/>
<polygon points="257.86,492.80 268.86,492.80 272.58,490.00 261.58,490.00" fill="#532769" stroke="#8f739e" stroke-width="0.7" stroke-linejoin="round"/>
<polygon points="286.41,492.80 297.41,492.80 297.41,486.00 286.41,486.00" fill="url(#g6)"/>
<polygon points="297.41,492.80 301.13,490.00 301.13,483.20 297.41,486.00" fill="#5a2a72"/>
<polygon points="286.41,486.00 297.41,486.00 301.13,483.20 290.13,483.20" fill="#8c58a4"/>
<polygon points="314.96,492.80 325.96,492.80 329.68,490.00 318.68,490.00" fill="#532769" stroke="#8f739e" stroke-width="0.7" stroke-linejoin="round"/>
<polygon points="343.51,492.80 354.51,492.80 358.23,490.00 347.23,490.00" fill="#532769" stroke="#8f739e" stroke-width="0.7" stroke-linejoin="round"/>
<polygon points="372.06,492.80 383.06,492.80 386.78,490.00 375.78,490.00" fill="#532769" stroke="#8f739e" stroke-width="0.7" stroke-linejoin="round"/>
<polygon points="400.61,492.80 411.61,492.80 411.61,482.30 400.61,482.30" fill="url(#g6)"/>
<polygon points="411.61,492.80 415.33,490.00 415.33,479.50 411.61,482.30" fill="#5a2a72"/>
<polygon points="400.61,482.30 411.61,482.30 415.33,479.50 404.33,479.50" fill="#8c58a4"/>
<polygon points="105.33,500.15 116.33,500.15 120.05,497.35 120.05,287.85 109.05,287.85 105.33,290.65" fill="none" stroke="#eef6fc" stroke-width="1.6" stroke-linejoin="round"/>
<polygon points="105.33,500.15 116.33,500.15 116.33,290.65 105.33,290.65" fill="url(#g5)"/>
<polygon points="116.33,500.15 120.05,497.35 120.05,287.85 116.33,290.65" fill="#38ad3c"/>
<polygon points="105.33,290.65 116.33,290.65 120.05,287.85 109.05,287.85" fill="#5cbc50"/>
<polygon points="133.88,500.15 144.88,500.15 148.60,497.35 148.60,478.35 137.60,478.35 133.88,481.15" fill="none" stroke="#eef6fc" stroke-width="1.6" stroke-linejoin="round"/>
<polygon points="133.88,500.15 144.88,500.15 144.88,481.15 133.88,481.15" fill="url(#g5)"/>
<polygon points="144.88,500.15 148.60,497.35 148.60,478.35 144.88,481.15" fill="#38ad3c"/>
<polygon points="133.88,481.15 144.88,481.15 148.60,478.35 137.60,478.35" fill="#5cbc50"/>
<polygon points="162.43,500.15 173.43,500.15 177.15,497.35 166.15,497.35" fill="#349f37" stroke="#7bc17d" stroke-width="0.7" stroke-linejoin="round"/>
<polygon points="190.98,500.15 201.98,500.15 205.70,497.35 194.70,497.35" fill="#349f37" stroke="#7bc17d" stroke-width="0.7" stroke-linejoin="round"/>
<polygon points="219.53,500.15 230.53,500.15 234.25,497.35 223.25,497.35" fill="#349f37" stroke="#7bc17d" stroke-width="0.7" stroke-linejoin="round"/>
<polygon points="248.08,500.15 259.08,500.15 262.80,497.35 251.80,497.35" fill="#349f37" stroke="#7bc17d" stroke-width="0.7" stroke-linejoin="round"/>
<polygon points="276.63,500.15 287.63,500.15 291.35,497.35 280.35,497.35" fill="#349f37" stroke="#7bc17d" stroke-width="0.7" stroke-linejoin="round"/>
<polygon points="305.18,500.15 316.18,500.15 319.90,497.35 308.90,497.35" fill="#349f37" stroke="#7bc17d" stroke-width="0.7" stroke-linejoin="round"/>
<polygon points="333.73,500.15 344.73,500.15 348.45,497.35 337.45,497.35" fill="#349f37" stroke="#7bc17d" stroke-width="0.7" stroke-linejoin="round"/>
<polygon points="362.28,500.15 373.28,500.15 377.00,497.35 366.00,497.35" fill="#349f37" stroke="#7bc17d" stroke-width="0.7" stroke-linejoin="round"/>
<polygon points="390.83,500.15 401.83,500.15 405.55,497.35 394.55,497.35" fill="#349f37" stroke="#7bc17d" stroke-width="0.7" stroke-linejoin="round"/>
<polygon points="95.55,507.50 106.55,507.50 110.27,504.70 99.27,504.70" fill="#3999d0" stroke="#7ebde0" stroke-width="0.7" stroke-linejoin="round"/>
<polygon points="124.10,507.50 135.10,507.50 138.82,504.70 127.82,504.70" fill="#3999d0" stroke="#7ebde0" stroke-width="0.7" stroke-linejoin="round"/>
<polygon points="152.65,507.50 163.65,507.50 167.37,504.70 156.37,504.70" fill="#3999d0" stroke="#7ebde0" stroke-width="0.7" stroke-linejoin="round"/>
<polygon points="181.20,507.50 192.20,507.50 195.92,504.70 184.92,504.70" fill="#3999d0" stroke="#7ebde0" stroke-width="0.7" stroke-linejoin="round"/>
<polygon points="209.75,507.50 220.75,507.50 224.47,504.70 213.47,504.70" fill="#3999d0" stroke="#7ebde0" stroke-width="0.7" stroke-linejoin="round"/>
<polygon points="238.30,507.50 249.30,507.50 249.30,505.69 238.30,505.69" fill="url(#g4)"/>
<polygon points="249.30,507.50 253.02,504.70 253.02,502.90 249.30,505.69" fill="#3ea6e2"/>
<polygon points="238.30,505.69 249.30,505.69 253.02,502.90 242.02,502.90" fill="#94ccf2"/>
<polygon points="266.85,507.50 277.85,507.50 281.57,504.70 270.57,504.70" fill="#3999d0" stroke="#7ebde0" stroke-width="0.7" stroke-linejoin="round"/>
<polygon points="295.40,507.50 306.40,507.50 310.12,504.70 299.12,504.70" fill="#3999d0" stroke="#7ebde0" stroke-width="0.7" stroke-linejoin="round"/>
<polygon points="323.95,507.50 334.95,507.50 338.67,504.70 338.67,294.70 327.67,294.70 323.95,297.50" fill="none" stroke="#eef6fc" stroke-width="1.6" stroke-linejoin="round"/>
<polygon points="323.95,507.50 334.95,507.50 334.95,297.50 323.95,297.50" fill="url(#g4)"/>
<polygon points="334.95,507.50 338.67,504.70 338.67,294.70 334.95,297.50" fill="#3ea6e2"/>
<polygon points="323.95,297.50 334.95,297.50 338.67,294.70 327.67,294.70" fill="#94ccf2"/>
<polygon points="352.50,507.50 363.50,507.50 367.22,504.70 356.22,504.70" fill="#3999d0" stroke="#7ebde0" stroke-width="0.7" stroke-linejoin="round"/>
<polygon points="381.05,507.50 392.05,507.50 395.77,504.70 384.77,504.70" fill="#3999d0" stroke="#7ebde0" stroke-width="0.7" stroke-linejoin="round"/>
<polygon points="85.77,514.85 96.77,514.85 100.49,512.05 89.49,512.05" fill="#dda91d" stroke="#e9c76c" stroke-width="0.7" stroke-linejoin="round"/>
<polygon points="114.32,514.85 125.32,514.85 129.04,512.05 118.04,512.05" fill="#dda91d" stroke="#e9c76c" stroke-width="0.7" stroke-linejoin="round"/>
<polygon points="142.87,514.85 153.87,514.85 157.59,512.05 157.59,484.05 146.59,484.05 142.87,486.85" fill="none" stroke="#eef6fc" stroke-width="1.6" stroke-linejoin="round"/>
<polygon points="142.87,514.85 153.87,514.85 153.87,486.85 142.87,486.85" fill="url(#g3)"/>
<polygon points="153.87,514.85 157.59,512.05 157.59,484.05 153.87,486.85" fill="#f0b820"/>
<polygon points="142.87,486.85 153.87,486.85 157.59,484.05 146.59,484.05" fill="#fbe070"/>
<polygon points="171.42,514.85 182.42,514.85 186.14,512.05 175.14,512.05" fill="#dda91d" stroke="#e9c76c" stroke-width="0.7" stroke-linejoin="round"/>
<polygon points="199.97,514.85 210.97,514.85 214.69,512.05 203.69,512.05" fill="#dda91d" stroke="#e9c76c" stroke-width="0.7" stroke-linejoin="round"/>
<polygon points="228.52,514.85 239.52,514.85 239.52,512.35 228.52,512.35" fill="url(#g3)"/>
<polygon points="239.52,514.85 243.24,512.05 243.24,509.55 239.52,512.35" fill="#f0b820"/>
<polygon points="228.52,512.35 239.52,512.35 243.24,509.55 232.24,509.55" fill="#fbe070"/>
<polygon points="257.07,514.85 268.07,514.85 271.79,512.05 260.79,512.05" fill="#dda91d" stroke="#e9c76c" stroke-width="0.7" stroke-linejoin="round"/>
<polygon points="285.62,514.85 296.62,514.85 300.34,512.05 289.34,512.05" fill="#dda91d" stroke="#e9c76c" stroke-width="0.7" stroke-linejoin="round"/>
<polygon points="314.17,514.85 325.17,514.85 328.89,512.05 317.89,512.05" fill="#dda91d" stroke="#e9c76c" stroke-width="0.7" stroke-linejoin="round"/>
<polygon points="342.72,514.85 353.72,514.85 357.44,512.05 346.44,512.05" fill="#dda91d" stroke="#e9c76c" stroke-width="0.7" stroke-linejoin="round"/>
<polygon points="371.27,514.85 382.27,514.85 385.99,512.05 374.99,512.05" fill="#dda91d" stroke="#e9c76c" stroke-width="0.7" stroke-linejoin="round"/>
<polygon points="75.99,522.20 86.99,522.20 90.71,519.40 90.71,426.40 79.71,426.40 75.99,429.20" fill="none" stroke="#eef6fc" stroke-width="1.6" stroke-linejoin="round"/>
<polygon points="75.99,522.20 86.99,522.20 86.99,429.20 75.99,429.20" fill="url(#g2)"/>
<polygon points="86.99,522.20 90.71,519.40 90.71,426.40 86.99,429.20" fill="#c6c6ca"/>
<polygon points="75.99,429.20 86.99,429.20 90.71,426.40 79.71,426.40" fill="#e6e6e8"/>
<polygon points="104.54,522.20 115.54,522.20 119.26,519.40 119.26,498.40 108.26,498.40 104.54,501.20" fill="none" stroke="#eef6fc" stroke-width="1.6" stroke-linejoin="round"/>
<polygon points="104.54,522.20 115.54,522.20 115.54,501.20 104.54,501.20" fill="url(#g2)"/>
<polygon points="115.54,522.20 119.26,519.40 119.26,498.40 115.54,501.20" fill="#c6c6ca"/>
<polygon points="104.54,501.20 115.54,501.20 119.26,498.40 108.26,498.40" fill="#e6e6e8"/>
<polygon points="133.09,522.20 144.09,522.20 147.81,519.40 147.81,489.40 136.81,489.40 133.09,492.20" fill="none" stroke="#eef6fc" stroke-width="1.6" stroke-linejoin="round"/>
<polygon points="133.09,522.20 144.09,522.20 144.09,492.20 133.09,492.20" fill="url(#g2)"/>
<polygon points="144.09,522.20 147.81,519.40 147.81,489.40 144.09,492.20" fill="#c6c6ca"/>
<polygon points="133.09,492.20 144.09,492.20 147.81,489.40 136.81,489.40" fill="#e6e6e8"/>
<polygon points="161.64,522.20 172.64,522.20 176.36,519.40 165.36,519.40" fill="#b6b6ba" stroke="#d0d0d2" stroke-width="0.7" stroke-linejoin="round"/>
<polygon points="190.19,522.20 201.19,522.20 204.91,519.40 193.91,519.40" fill="#b6b6ba" stroke="#d0d0d2" stroke-width="0.7" stroke-linejoin="round"/>
<polygon points="218.74,522.20 229.74,522.20 233.46,519.40 222.46,519.40" fill="#b6b6ba" stroke="#d0d0d2" stroke-width="0.7" stroke-linejoin="round"/>
<polygon points="247.29,522.20 258.29,522.20 262.01,519.40 251.01,519.40" fill="#b6b6ba" stroke="#d0d0d2" stroke-width="0.7" stroke-linejoin="round"/>
<polygon points="275.84,522.20 286.84,522.20 290.56,519.40 279.56,519.40" fill="#b6b6ba" stroke="#d0d0d2" stroke-width="0.7" stroke-linejoin="round"/>
<polygon points="304.39,522.20 315.39,522.20 319.11,519.40 308.11,519.40" fill="#b6b6ba" stroke="#d0d0d2" stroke-width="0.7" stroke-linejoin="round"/>
<polygon points="332.94,522.20 343.94,522.20 347.66,519.40 336.66,519.40" fill="#b6b6ba" stroke="#d0d0d2" stroke-width="0.7" stroke-linejoin="round"/>
<polygon points="361.49,522.20 372.49,522.20 376.21,519.40 365.21,519.40" fill="#b6b6ba" stroke="#d0d0d2" stroke-width="0.7" stroke-linejoin="round"/>
<polygon points="66.21,529.55 77.21,529.55 80.93,526.75 80.93,505.75 69.93,505.75 66.21,508.55" fill="none" stroke="#eef6fc" stroke-width="1.6" stroke-linejoin="round"/>
<polygon points="66.21,529.55 77.21,529.55 77.21,508.55 66.21,508.55" fill="url(#g1)"/>
<polygon points="77.21,529.55 80.93,526.75 80.93,505.75 77.21,508.55" fill="#ef9018"/>
<polygon points="66.21,508.55 77.21,508.55 80.93,505.75 69.93,505.75" fill="#f8bb66"/>
<polygon points="94.76,529.55 105.76,529.55 109.48,526.75 109.48,508.75 98.48,508.75 94.76,511.55" fill="none" stroke="#eef6fc" stroke-width="1.6" stroke-linejoin="round"/>
<polygon points="94.76,529.55 105.76,529.55 105.76,511.55 94.76,511.55" fill="url(#g1)"/>
<polygon points="105.76,529.55 109.48,526.75 109.48,508.75 105.76,511.55" fill="#ef9018"/>
<polygon points="94.76,511.55 105.76,511.55 109.48,508.75 98.48,508.75" fill="#f8bb66"/>
<polygon points="123.31,529.55 134.31,529.55 134.31,520.55 123.31,520.55" fill="url(#g1)"/>
<polygon points="134.31,529.55 138.03,526.75 138.03,517.75 134.31,520.55" fill="#ef9018"/>
<polygon points="123.31,520.55 134.31,520.55 138.03,517.75 127.03,517.75" fill="#f8bb66"/>
<polygon points="151.86,529.55 162.86,529.55 162.86,525.05 151.86,525.05" fill="url(#g1)"/>
<polygon points="162.86,529.55 166.58,526.75 166.58,522.25 162.86,525.05" fill="#ef9018"/>
<polygon points="151.86,525.05 162.86,525.05 166.58,522.25 155.58,522.25" fill="#f8bb66"/>
<polygon points="180.41,529.55 191.41,529.55 195.13,526.75 184.13,526.75" fill="#dc8416" stroke="#e8af68" stroke-width="0.7" stroke-linejoin="round"/>
<polygon points="208.96,529.55 219.96,529.55 223.68,526.75 212.68,526.75" fill="#dc8416" stroke="#e8af68" stroke-width="0.7" stroke-linejoin="round"/>
<polygon points="237.51,529.55 248.51,529.55 252.23,526.75 241.23,526.75" fill="#dc8416" stroke="#e8af68" stroke-width="0.7" stroke-linejoin="round"/>
<polygon points="266.06,529.55 277.06,529.55 280.78,526.75 269.78,526.75" fill="#dc8416" stroke="#e8af68" stroke-width="0.7" stroke-linejoin="round"/>
<polygon points="294.61,529.55 305.61,529.55 309.33,526.75 298.33,526.75" fill="#dc8416" stroke="#e8af68" stroke-width="0.7" stroke-linejoin="round"/>
<polygon points="323.16,529.55 334.16,529.55 337.88,526.75 337.88,511.75 326.88,511.75 323.16,514.55" fill="none" stroke="#eef6fc" stroke-width="1.6" stroke-linejoin="round"/>
<polygon points="323.16,529.55 334.16,529.55 334.16,514.55 323.16,514.55" fill="url(#g1)"/>
<polygon points="334.16,529.55 337.88,526.75 337.88,511.75 334.16,514.55" fill="#ef9018"/>
<polygon points="323.16,514.55 334.16,514.55 337.88,511.75 326.88,511.75" fill="#f8bb66"/>
<polygon points="351.71,529.55 362.71,529.55 366.43,526.75 355.43,526.75" fill="#dc8416" stroke="#e8af68" stroke-width="0.7" stroke-linejoin="round"/>
<polygon points="56.43,536.89 67.43,536.89 71.15,534.10 71.15,445.10 60.15,445.10 56.43,447.89" fill="none" stroke="#eef6fc" stroke-width="1.6" stroke-linejoin="round"/>
<polygon points="56.43,536.89 67.43,536.89 67.43,447.89 56.43,447.89" fill="url(#g0)"/>
<polygon points="67.43,536.89 71.15,534.10 71.15,445.10 67.43,447.89" fill="#22599a"/>
<polygon points="56.43,447.89 67.43,447.89 71.15,445.10 60.15,445.10" fill="#5e80bc"/>
<polygon points="84.98,536.89 95.98,536.89 99.70,534.10 99.70,489.10 88.70,489.10 84.98,491.89" fill="none" stroke="#eef6fc" stroke-width="1.6" stroke-linejoin="round"/>
<polygon points="84.98,536.89 95.98,536.89 95.98,491.89 84.98,491.89" fill="url(#g0)"/>
<polygon points="95.98,536.89 99.70,534.10 99.70,489.10 95.98,491.89" fill="#22599a"/>
<polygon points="84.98,491.89 95.98,491.89 99.70,489.10 88.70,489.10" fill="#5e80bc"/>
<polygon points="113.53,536.89 124.53,536.89 128.25,534.10 128.25,517.60 117.25,517.60 113.53,520.39" fill="none" stroke="#eef6fc" stroke-width="1.6" stroke-linejoin="round"/>
<polygon points="113.53,536.89 124.53,536.89 124.53,520.39 113.53,520.39" fill="url(#g0)"/>
<polygon points="124.53,536.89 128.25,534.10 128.25,517.60 124.53,520.39" fill="#22599a"/>
<polygon points="113.53,520.39 124.53,520.39 128.25,517.60 117.25,517.60" fill="#5e80bc"/>
<polygon points="142.08,536.89 153.08,536.89 153.08,526.89 142.08,526.89" fill="url(#g0)"/>
<polygon points="153.08,536.89 156.80,534.10 156.80,524.10 153.08,526.89" fill="#22599a"/>
<polygon points="142.08,526.89 153.08,526.89 156.80,524.10 145.80,524.10" fill="#5e80bc"/>
<polygon points="170.63,536.89 181.63,536.89 185.35,534.10 174.35,534.10" fill="#1f528e" stroke="#6d8fb6" stroke-width="0.7" stroke-linejoin="round"/>
<polygon points="199.18,536.89 210.18,536.89 213.90,534.10 202.90,534.10" fill="#1f528e" stroke="#6d8fb6" stroke-width="0.7" stroke-linejoin="round"/>
<polygon points="227.73,536.89 238.73,536.89 242.45,534.10 231.45,534.10" fill="#1f528e" stroke="#6d8fb6" stroke-width="0.7" stroke-linejoin="round"/>
<polygon points="256.28,536.89 267.28,536.89 271.00,534.10 260.00,534.10" fill="#1f528e" stroke="#6d8fb6" stroke-width="0.7" stroke-linejoin="round"/>
<polygon points="284.83,536.89 295.83,536.89 295.83,530.89 284.83,530.89" fill="url(#g0)"/>
<polygon points="295.83,536.89 299.55,534.10 299.55,528.10 295.83,530.89" fill="#22599a"/>
<polygon points="284.83,530.89 295.83,530.89 299.55,528.10 288.55,528.10" fill="#5e80bc"/>
<polygon points="313.38,536.89 324.38,536.89 328.10,534.10 317.10,534.10" fill="#1f528e" stroke="#6d8fb6" stroke-width="0.7" stroke-linejoin="round"/>
<polygon points="341.93,536.89 352.93,536.89 356.65,534.10 345.65,534.10" fill="#1f528e" stroke="#6d8fb6" stroke-width="0.7" stroke-linejoin="round"/>
</svg>
<div class="frame"></div>
</body></html>
